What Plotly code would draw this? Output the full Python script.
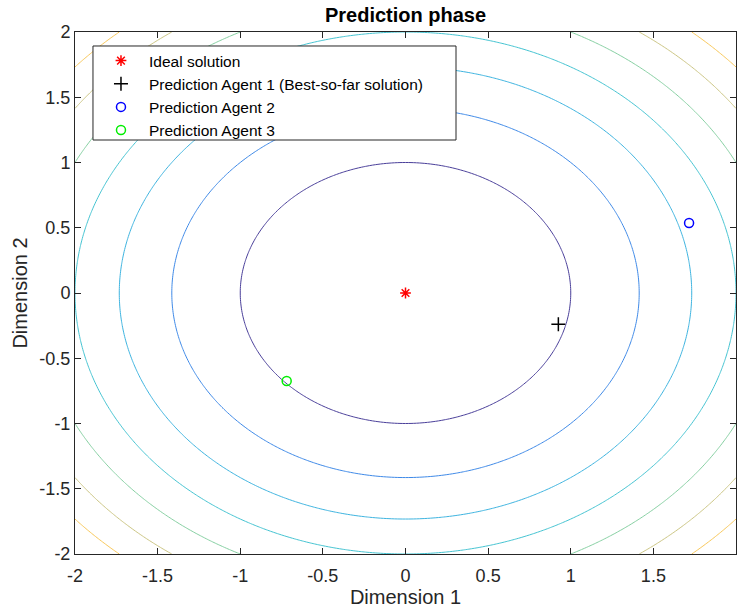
import numpy as np
import plotly.graph_objects as go

# Data
grid_x = np.linspace(-2, 2, 241)
grid_y = np.linspace(-2, 2, 241)
levels = [1, 2, 3, 4, 5, 6, 7]
level_colors = ["#4a3f9a", "#3f8ae8", "#3eb4e0", "#45c4d2", "#86d0a2", "#ccc684", "#f9c85a"]

ideal_x, ideal_y = [0.0], [0.0]
agent1_x, agent1_y = [0.925], [-0.24]
agent2_x, agent2_y = [1.716], [0.536]
agent3_x, agent3_y = [-0.719], [-0.674]

tick_vals = [-2, -1.5, -1, -0.5, 0, 0.5, 1, 1.5, 2]
tick_text = ["-2", "-1.5", "-1", "-0.5", "0", "0.5", "1", "1.5", "2"]

X, Y = np.meshgrid(grid_x, grid_y)
Z = X**2 + Y**2

fig = go.Figure()
for lv, col in zip(levels, level_colors):
    fig.add_trace(go.Contour(
        x=grid_x, y=grid_y, z=Z,
        contours=dict(start=lv, end=lv, size=1, coloring="none"),
        line=dict(color=col, width=1),
        showscale=False, showlegend=False, hoverinfo="skip",
        autocontour=False,
    ))

fig.add_trace(go.Scatter(x=ideal_x, y=ideal_y, mode="markers", name="Ideal solution",
                         marker=dict(symbol="asterisk-open", size=9, color="red",
                                     line=dict(color="red", width=1.5))))
fig.add_trace(go.Scatter(x=agent1_x, y=agent1_y, mode="markers",
                         name="Prediction Agent 1 (Best-so-far solution)",
                         marker=dict(symbol="cross-thin-open", size=10, color="black",
                                     line=dict(color="black", width=1.5))))
fig.add_trace(go.Scatter(x=agent2_x, y=agent2_y, mode="markers", name="Prediction Agent 2",
                         marker=dict(symbol="circle-open", size=9, color="blue",
                                     line=dict(color="blue", width=1.5))))
fig.add_trace(go.Scatter(x=agent3_x, y=agent3_y, mode="markers", name="Prediction Agent 3",
                         marker=dict(symbol="circle-open", size=9, color="#00ee00",
                                     line=dict(color="#00ee00", width=1.5))))

axis_common = dict(
    range=[-2, 2], tickvals=tick_vals, ticktext=tick_text,
    ticks="inside", ticklen=6, tickcolor="#262626", tickwidth=1,
    showline=True, linecolor="#262626", linewidth=1, mirror="ticks",
    showgrid=False, zeroline=False, automargin=False,
    tickfont=dict(family="Liberation Sans", size=18, color="#262626"),
)

fig.update_layout(
    width=737, height=612,
    margin=dict(l=75, r=1, t=32, b=58),
    paper_bgcolor="white", plot_bgcolor="white",
    title=dict(text="<b>Prediction phase</b>", xref="paper", x=0.5, xanchor="center",
               y=1 - 15 / 612, yanchor="middle",
               font=dict(family="Liberation Sans", size=20, color="black")),
    xaxis=dict(**axis_common, ticklabelstandoff=5,
               title=dict(text="Dimension 1", standoff=4,
                          font=dict(family="Liberation Sans", size=20, color="#262626"))),
    yaxis=dict(**axis_common, title=dict(text="Dimension 2", standoff=6,
               font=dict(family="Liberation Sans", size=20, color="#262626"))),
    legend=dict(x=0.0272, y=0.977, xanchor="left", yanchor="top",
                bgcolor="rgba(0,0,0,0)", borderwidth=0,
                font=dict(family="Liberation Sans", size=15.5, color="black"),
                tracegroupgap=0, itemwidth=46),
    shapes=[dict(type="rect", xref="paper", yref="paper",
                 x0=0.0272, x1=0.5764, y0=0.7931, y1=0.9732,
                 fillcolor="white", line=dict(color="#262626", width=1), layer="above")],
    showlegend=True,
)

fig.write_html("out.html", config={"displayModeBar": False},
               post_script="document.body.style.margin='0';"
                           "document.documentElement.style.overflow='hidden';"
                           "document.body.style.overflow='hidden';")
